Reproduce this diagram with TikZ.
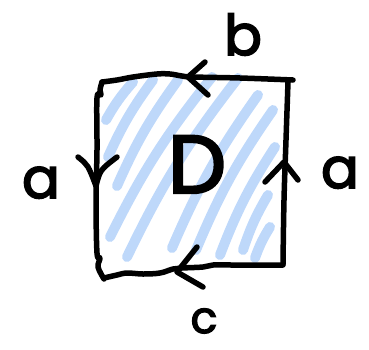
\documentclass[tikz,border=0pt]{standalone}
\usepackage{fontspec}
\setmainfont{Poppins}[FakeBold=3]
\definecolor{hatch}{RGB}{190,216,250}
\begin{document}
\begin{tikzpicture}[x=1pt,y=-1pt,
  ink/.style={line width=5.5pt,line cap=round,line join=round,black},
  hatchline/.style={line width=10pt,line cap=round,hatch},
  lbl/.style={anchor=base,inner sep=0pt,font=\fontsize{56}{60}\selectfont}]
\useasboundingbox (0,0) rectangle (369,349);
% hatching
\draw[hatchline] (106,120) to[bend left=6] (133,82);
\draw[hatchline] (108,157) to[bend left=6] (153,80);
\draw[hatchline] (117,186) to[bend left=6] (178,80);
\draw[hatchline] (110,237) to[bend left=6] (212,77);
\draw[hatchline] (127,257) to[bend left=6] (238,78);
\draw[hatchline] (172,248) to[bend left=6] (258,95);
\draw[hatchline] (196,250) to[bend left=6] (273,110);
\draw[hatchline] (220,255) to[bend left=6] (275,147);
\draw[hatchline] (243,250) to[bend left=6] (268,195);
\draw[hatchline] (255,258) to[bend left=6] (270,227);
% outline
\draw[ink] plot[smooth,tension=0.6] coordinates {(102,82) (117,80) (133,77) (157,74) (170,74) (182,76) (193,77) (240,78) (293,80)};
\draw[ink] plot[smooth,tension=0.6] coordinates {(288,82) (286,140) (284,200) (283,264)};
\draw[ink] plot[smooth,tension=0.6] coordinates {(283,265) (233,265) (213,265) (203,267) (182,268) (173,269) (160,273) (143,274) (127,273) (117,275) (104,278)};
\draw[ink] plot[smooth,tension=0.6] coordinates {(102,82) (100,90) (101,95) (97,98) (97,150) (96,200) (97,253) (100,258) (98,267) (104,279)};
% arrows
\draw[ink] (205,62) -- (188,77) -- (208,95);
\draw[ink] (78,157) .. controls (88,165) .. (96,186) .. controls (100,170) .. (117,157);
\draw[ink] (265,182) -- (284,162) -- (298,180);
\draw[ink] (197,247) -- (177,272) -- (203,287);
% labels
\node[lbl] (la) at (41,198) {a};
\node[lbl] (ra) at (340,188) {a};
\node[lbl] (lb) at (243,55) {b};
\node[lbl,font=\fontsize{44}{48}\selectfont] (lc) at (204,333) {c};
\node[lbl,font=\fontsize{82}{86}\selectfont] (lD) at (197,193) {D};
\end{tikzpicture}
\end{document}
